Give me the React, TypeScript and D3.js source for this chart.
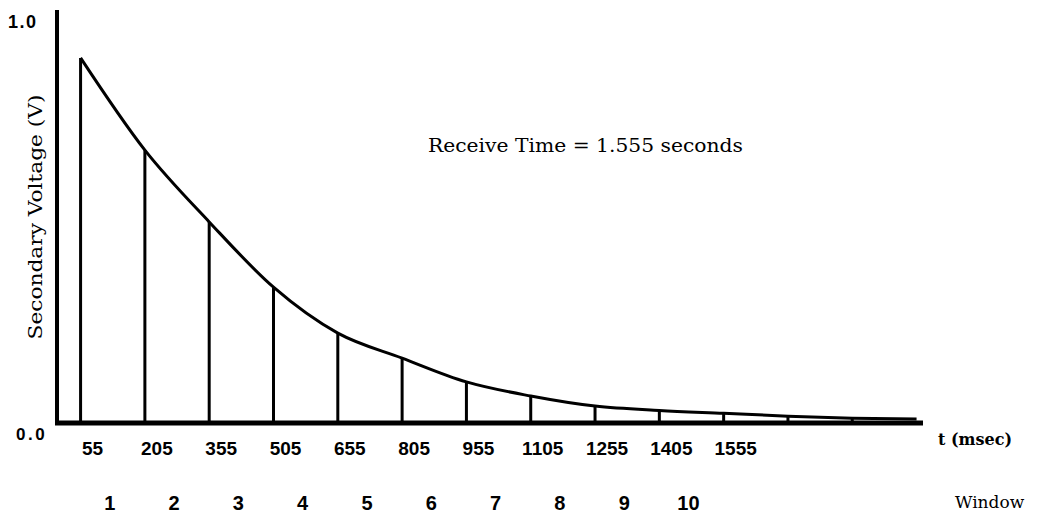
import React from 'react'
import { scaleLinear, line, curveMonotoneX } from 'd3'

// window sample times (msec) and the decay voltage at each
const times = [55, 205, 355, 505, 655, 805, 955, 1105, 1255, 1405, 1555, 1705, 1855]
const volts = [0.906, 0.677, 0.499, 0.337, 0.223, 0.161, 0.102, 0.067, 0.042, 0.031, 0.024, 0.017, 0.012]
const endTime = 2005
const endVolt = 0.01
const tickLabels = ['55', '205', '355', '505', '655', '805', '955', '1105', '1255', '1405', '1555']
const windows = ['1', '2', '3', '4', '5', '6', '7', '8', '9', '10']

const serif = 'DejaVu Serif, serif'
const sans = 'Liberation Sans, Arial, sans-serif'

function App() {
    const x = scaleLinear().domain([0, 2020]).range([57, 923])
    const y = scaleLinear().domain([0, 1]).range([423, 20])

    const pts: [number, number][] = times.map((t, i) => [t, volts[i]])
    pts.push([endTime, endVolt])

    const curve = line<[number, number]>()
        .x(d => x(d[0]))
        .y(d => y(d[1]))
        .curve(curveMonotoneX)

    return (
        <svg width={1038} height={527} style={{ position: 'absolute', left: 0, top: 0, background: '#fff' }}>
            {/* axes */}
            <line x1={x(0)} x2={x(0)} y1={10} y2={y(0) + 2} stroke="#000" strokeWidth={4} />
            <line x1={x(0) - 2} x2={x(2020)} y1={y(0)} y2={y(0)} stroke="#000" strokeWidth={5} />

            <text x={8} y={28} fontFamily={sans} fontWeight="bold" fontSize={18} letterSpacing={1.5}>1.0</text>
            <text x={16} y={440} fontFamily={sans} fontWeight="bold" fontSize={17} letterSpacing={2.5}>0.0</text>

            {/* stems */}
            {times.map((t, i) => (
                <line key={t} x1={x(t)} x2={x(t)} y1={y(0)} y2={y(volts[i])} stroke="#000" strokeWidth={3} />
            ))}

            <path d={curve(pts) || ''} fill="none" stroke="#000" strokeWidth={3} strokeLinejoin="round" />

            {/* time tick labels */}
            {tickLabels.map((lab, i) => (
                <text key={lab} x={x(times[i]) + 12} y={455} textAnchor="middle"
                    fontFamily={sans} fontSize={19} fontWeight="bold">{lab}</text>
            ))}

            {/* window numbers */}
            {windows.map((w, i) => (
                <text key={w} x={x((times[i] + times[i + 1]) / 2) - 3} y={510} textAnchor="middle"
                    fontFamily={sans} fontSize={20} fontWeight="bold">{w}</text>
            ))}

            <text x={938} y={445} fontFamily={serif} fontSize={16} fontWeight="bold">t (msec)</text>
            <text x={955} y={508} fontFamily={serif} fontSize={17}>Window</text>

            <text x={428} y={152} fontFamily={serif} fontSize={18} textLength={315}
                lengthAdjust="spacingAndGlyphs">Receive Time = 1.555 seconds</text>

            <text transform="translate(42,217) rotate(-90)" textAnchor="middle"
                fontFamily={serif} fontSize={18} textLength={245}
                lengthAdjust="spacingAndGlyphs">Secondary Voltage (V)</text>
        </svg>
    )
}

export default App
